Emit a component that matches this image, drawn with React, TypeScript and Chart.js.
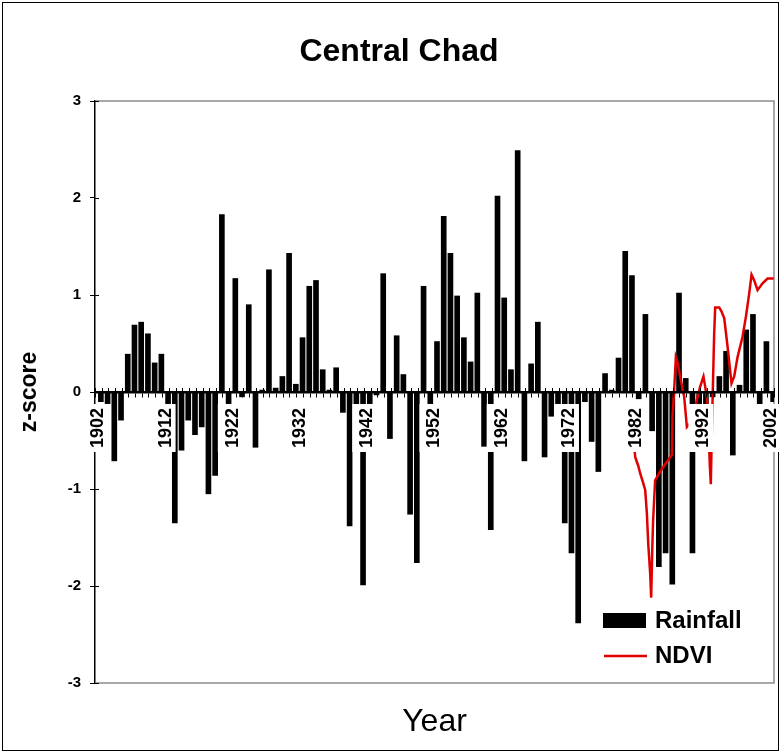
import React, { useEffect, useRef } from 'react';
import { Chart, registerables } from 'chart.js';

Chart.register(...registerables);

const FONT = 'Arial, "Liberation Sans", Helvetica, sans-serif';

const chartTitle = 'Central Chad';
const yTitle = 'z-score';
const xTitle = 'Year';

const firstYear = 1902;
const rainfall: number[] = [
  -0.10, -0.12, -0.71, -0.29, 0.39, 0.69, 0.72, 0.60, 0.30, 0.39, // 1902-1911
  -0.12, -1.35, -0.60, -0.29, -0.44, -0.36, -1.05, -0.86, 1.83, -0.12, // 1912-1921
  1.17, -0.05, 0.90, -0.57, 0.02, 1.26, 0.04, 0.16, 1.43, 0.08, // 1922-1931
  0.56, 1.09, 1.15, 0.23, 0.02, 0.25, -0.21, -1.38, -0.42, -1.99, // 1932-1941
  -0.12, -0.03, 1.22, -0.48, 0.58, 0.18, -1.26, -1.76, 1.09, -0.12, // 1942-1951
  0.52, 1.81, 1.43, 0.99, 0.56, 0.31, 1.02, -0.56, -1.42, 2.02, // 1952-1961
  0.97, 0.23, 2.49, -0.71, 0.29, 0.72, -0.67, -0.25, -0.12, -1.35, // 1962-1971
  -1.66, -2.38, -0.10, -0.51, -0.82, 0.19, 0.02, 0.35, 1.45, 1.20, // 1972-1981
  -0.07, 0.80, -0.40, -1.80, -1.66, -1.98, 1.02, 0.14, -1.66, -0.12, // 1982-1991
  -0.12, -0.05, 0.16, 0.42, -0.65, 0.07, 0.64, 0.80, -0.13, 0.52, // 1992-2001
  -0.10, // 2002
];
const years: string[] = rainfall.map((_, i) => String(firstYear + i));

const ndviYears: number[] = [
  1981.6, 1981.85, 1982.3, 1982.6, 1983.0, 1983.34, 1983.59, 1983.79, 1984.08, 1984.23,
  1984.4, 1984.52, 1984.82, 1985.57, 1986.57, 1987.31, 1987.4, 1987.65, 1987.9, 1988.14,
  1988.65, 1989.14, 1989.54, 1990.3, 1991.03, 1991.5, 1992.01, 1992.3, 1992.61, 1992.8,
  1992.95, 1993.1, 1993.2, 1993.35, 1993.6, 1993.75, 1994.35, 1994.7, 1995.1, 1995.59,
  1996.18, 1996.58, 1997.08, 1997.82, 1998.33, 1998.82, 1999.16, 1999.56, 2000.05, 2000.8,
  2001.54, 2002.45,
];
const ndviValues: number[] = [
  -0.45, -0.67, -0.76, -0.84, -0.93, -1.01, -1.25, -1.56, -1.87, -2.12,
  -1.6, -1.32, -0.91, -0.82, -0.72, -0.65, -0.25, 0.02, 0.36, 0.31,
  0.12, -0.05, -0.36, -0.3, -0.08, 0.05, 0.16, 0.04, -0.12, -0.45,
  -0.75, -0.95, -0.6, -0.12, 0.6, 0.87, 0.87, 0.83, 0.76, 0.47,
  0.09, 0.16, 0.36, 0.57, 0.78, 1.02, 1.21, 1.15, 1.05, 1.12,
  1.17, 1.17,
];

const yTicks: number[] = [-3, -2, -1, 0, 1, 2, 3];
const labelEvery = 10;
const legendLabels: string[] = ['Rainfall', 'NDVI'];

const decor = {
  id: 'decor',
  beforeDraw(chart: any) {
    const { ctx, width, height } = chart;
    ctx.save();
    ctx.fillStyle = '#fff';
    ctx.fillRect(0, 0, width, height);
    ctx.strokeStyle = '#000';
    ctx.lineWidth = 1;
    ctx.strokeRect(2.5, 2.5, width - 5, height - 5);
    ctx.restore();
  },
  beforeDatasetsDraw(chart: any) {
    const { ctx, chartArea: a } = chart;
    ctx.save();
    ctx.strokeStyle = '#8c8c8c';
    ctx.lineWidth = 1.5;
    ctx.beginPath();
    ctx.moveTo(a.left, a.top);
    ctx.lineTo(a.right, a.top);
    ctx.lineTo(a.right, a.bottom);
    ctx.lineTo(a.left, a.bottom);
    ctx.stroke();
    ctx.restore();
  },
  afterDatasetsDraw(chart: any) {
    // opaque backgrounds of the year labels (as in the original)
    const { ctx } = chart;
    const xs = chart.scales.x;
    const y0 = chart.scales.y.getPixelForValue(0);
    ctx.save();
    ctx.fillStyle = '#fff';
    years.forEach((_, i) => {
      if (i % labelEvery === 0) {
        const px = xs.getPixelForValue(i);
        ctx.fillRect(px - 15, y0 + 12, 25, 48);
      }
    });
    ctx.restore();
  },
  afterDraw(chart: any) {
    const { ctx, chartArea: a } = chart;
    const xs = chart.scales.x;
    const ys = chart.scales.y;
    const y0 = ys.getPixelForValue(0);
    ctx.save();
    ctx.strokeStyle = '#000';
    ctx.lineWidth = 1;
    const step = xs.getPixelForValue(1) - xs.getPixelForValue(0);
    ctx.beginPath();
    for (let i = 0; i <= years.length; i++) {
      const px = Math.round(xs.getPixelForValue(i) - step / 2) + 0.5;
      ctx.moveTo(px, y0 - 4);
      ctx.lineTo(px, y0);
    }
    yTicks.forEach((v) => {
      const py = Math.round(ys.getPixelForValue(v)) + 0.5;
      ctx.moveTo(a.left, py);
      ctx.lineTo(a.left + 4, py);
    });
    ctx.stroke();

    // title
    ctx.fillStyle = '#000';
    ctx.font = `bold 32px ${FONT}`;
    ctx.textAlign = 'center';
    ctx.textBaseline = 'middle';
    ctx.fillText(chartTitle, 399, 52);

    // legend
    ctx.fillStyle = '#000';
    ctx.fillRect(603, 613, 43, 15);
    ctx.strokeStyle = '#e00000';
    ctx.lineWidth = 2.5;
    ctx.beginPath();
    ctx.moveTo(604, 656);
    ctx.lineTo(647, 656);
    ctx.stroke();
    ctx.fillStyle = '#000';
    ctx.font = `bold 24px ${FONT}`;
    ctx.textAlign = 'left';
    ctx.textBaseline = 'middle';
    ctx.fillText(legendLabels[0], 655, 621);
    ctx.fillText(legendLabels[1], 655, 656);
    ctx.restore();
  },
};

export default function App() {
  const ref = useRef<HTMLCanvasElement>(null);
  useEffect(() => {
    document.body.style.margin = '0';
    const canvas = ref.current;
    if (!canvas) return;
    const chart = new Chart(canvas, {
      type: 'bar',
      data: {
        labels: years,
        datasets: [
          {
            type: 'line',
            label: legendLabels[1],
            data: ndviYears.map((x, i) => ({ x, y: ndviValues[i] })),
            xAxisID: 'xl',
            yAxisID: 'y',
            borderColor: '#e00000',
            borderWidth: 2.5,
            pointRadius: 0,
            tension: 0,
            order: 0,
          } as any,
          {
            type: 'bar',
            label: legendLabels[0],
            data: rainfall,
            xAxisID: 'x',
            yAxisID: 'y',
            backgroundColor: '#000',
            borderWidth: 0,
            barThickness: 5,
            order: 1,
          } as any,
        ],
      },
      options: {
        responsive: false,
        devicePixelRatio: 1,
        animation: false,
        layout: { padding: { top: 101, left: 0, right: 7, bottom: 0 } },
        plugins: {
          legend: { display: false },
          title: { display: false },
          tooltip: { enabled: false },
        },
        scales: {
          y: {
            type: 'linear',
            position: 'left',
            min: -3,
            max: 3,
            ticks: {
              stepSize: 1,
              color: '#000',
              padding: 9,
              font: { family: FONT, size: 15, weight: 'bold' },
            },
            grid: { drawOnChartArea: false, drawTicks: true, tickLength: 5, color: '#000' },
            border: { display: true, color: '#000', width: 1.5 },
            title: {
              display: true,
              text: yTitle,
              color: '#000',
              font: { family: FONT, size: 23, weight: 'bold' },
              padding: { top: 16, bottom: 0 },
            },
            afterFit: (s: any) => {
              s.width = 95;
            },
          },
          x: {
            type: 'category',
            position: { y: 0 } as any,
            offset: true,
            grid: {
              drawOnChartArea: false,
              drawTicks: true,
              tickLength: 4,
              color: '#000',
              offset: true,
              z: 1,
            },
            border: { display: true, color: '#000', width: 2.5, z: 1 },
            ticks: {
              z: 1,
              autoSkip: false,
              minRotation: 90,
              maxRotation: 90,
              padding: 12,
              color: '#000',
              font: { family: FONT, size: 18, weight: 'bold' },
              callback: (_v: any, i: number) => (i % labelEvery === 0 ? years[i] : ''),
            },
            afterFit: (s: any) => {
              s.paddingLeft = 0;
              s.paddingRight = 0;
            },
          },
          xl: {
            type: 'linear',
            position: { y: 0 } as any,
            offset: false,
            min: firstYear - 0.5,
            max: firstYear + rainfall.length - 0.5,
            grid: { display: false },
            border: { display: false },
            ticks: { display: false },
            afterFit: (s: any) => {
              s.paddingLeft = 0;
              s.paddingRight = 0;
            },
          },
          xb: {
            type: 'category',
            position: 'bottom',
            grid: { display: false },
            border: { display: false },
            ticks: { display: false },
            title: {
              display: true,
              text: xTitle,
              color: '#000',
              font: { family: FONT, size: 32, weight: 'normal' },
              padding: { top: 0, bottom: 12 },
            },
            afterFit: (s: any) => {
              s.height = 70;
              s.paddingLeft = 0;
              s.paddingRight = 0;
            },
          },
        } as any,
      },
      plugins: [decor],
    });
    return () => chart.destroy();
  }, []);
  return (
    <canvas
      ref={ref}
      width={781}
      height={753}
      style={{ display: 'block', width: '781px', height: '753px' }}
    />
  );
}
